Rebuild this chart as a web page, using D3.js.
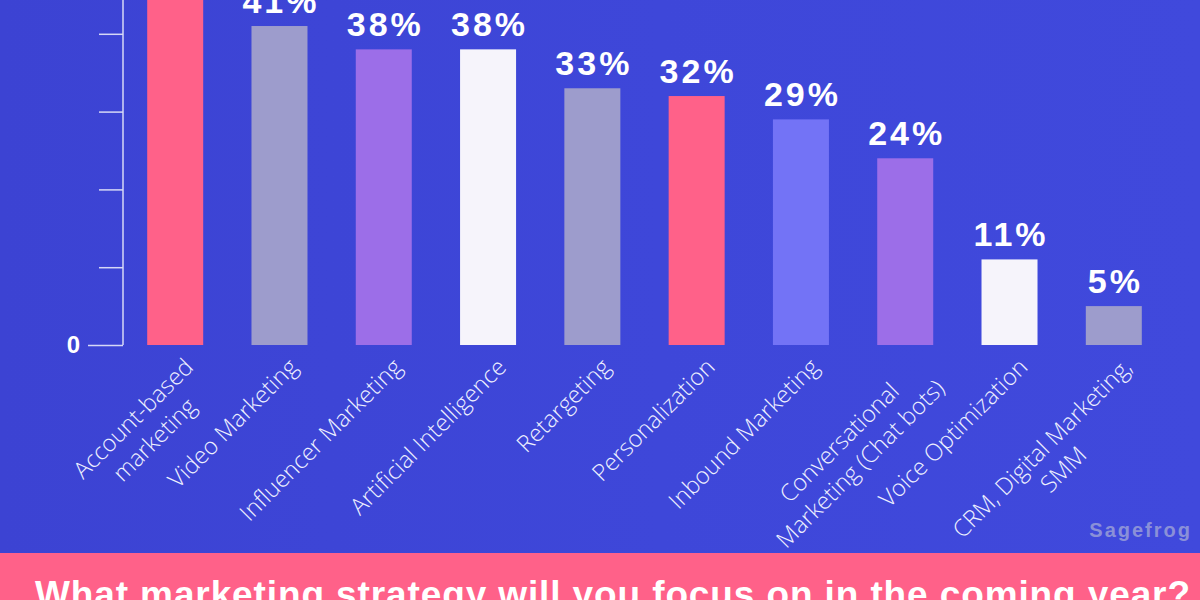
<!DOCTYPE html>
<html>
<head>
<meta charset="utf-8">
<script src="https://cdn.jsdelivr.net/npm/d3@7"></script>
<style>
  html, body { margin: 0; padding: 0; background: #3e46d6; }
  svg { display: block; }
</style>
</head>
<body>
<svg id="chart" width="1200" height="600"></svg>
<script>
// ---- data ----
const categories = [
  "Account-based\nmarketing",
  "Video Marketing",
  "Influencer Marketing",
  "Artificial Intelligence",
  "Retargeting",
  "Personalization",
  "Inbound Marketing",
  "Conversational\nMarketing (Chat bots)",
  "Voice Optimization",
  "CRM, Digital Marketing,\nSMM"
];
const values = [47, 41, 38, 38, 33, 32, 29, 24, 11, 5];
const barColors = ["#ff6189", "#9d9ccc", "#9c6ee8", "#f6f4fb", "#9d9ccc",
                   "#ff6189", "#7373f6", "#9c6ee8", "#f6f4fb", "#9d9ccc"];
const yTicks = [0, 10, 20, 30, 40];
const yTickLabels = ["0", "", "", "", ""];
const title = "What marketing strategy will you focus on in the coming year?";
const brand = "Sagefrog";

// ---- layout ----
const W = 1200, H = 600;
const svg = d3.select("#chart");

const defs = svg.append("defs");
const bg = defs.append("linearGradient").attr("id", "bg").attr("x1", 0).attr("x2", 1).attr("y1", 0).attr("y2", 0);
bg.append("stop").attr("offset", "0%").attr("stop-color", "#3c43d3");
bg.append("stop").attr("offset", "55%").attr("stop-color", "#3e47d9");
bg.append("stop").attr("offset", "100%").attr("stop-color", "#4049dc");
svg.append("rect").attr("width", W).attr("height", H).attr("fill", "url(#bg)");

const axisX = 123, baseY = 345;
const x = d3.scaleBand()
  .domain(categories)
  .range([axisX, axisX + 1043])
  .paddingInner(0.463)
  .paddingOuter(0.232);
const y = d3.scaleLinear().domain([0, 10]).range([baseY, baseY - 77.8]);

// bars
svg.append("g").selectAll("rect").data(values).join("rect")
  .attr("x", (d, i) => x(categories[i]))
  .attr("width", x.bandwidth())
  .attr("y", d => y(d))
  .attr("height", d => y(0) - y(d))
  .attr("fill", (d, i) => barColors[i]);

// value labels
svg.append("g").selectAll("text").data(values).join("text")
  .attr("x", (d, i) => x(categories[i]) + x.bandwidth() / 2 + 1.5)
  .attr("y", d => y(d) - 13)
  .attr("text-anchor", "middle")
  .attr("fill", "#ffffff")
  .attr("font-family", "'Liberation Sans', Arial, sans-serif")
  .attr("font-weight", "bold")
  .attr("font-size", 34)
  .attr("letter-spacing", 3)
  .text(d => d + "%");

// y axis
const yAxis = d3.axisLeft(y).tickValues(yTicks).tickSize(24).tickFormat((d, i) => yTickLabels[i]);
const gy = svg.append("g").attr("transform", `translate(${axisX},0)`).call(yAxis);
gy.select(".domain").remove();
gy.append("line").attr("x1", 0).attr("x2", 0).attr("y1", baseY).attr("y2", 0)
  .attr("stroke", "#d6d8f6").attr("stroke-width", 1.5);
gy.selectAll(".tick line").attr("stroke", "#d6d8f6").attr("stroke-width", 1.5)
  .attr("x2", d => d === 0 ? -35 : -24);
gy.selectAll(".tick text")
  .attr("x", -43)
  .attr("fill", "#ffffff")
  .attr("font-family", "'Liberation Sans', Arial, sans-serif")
  .attr("font-weight", "bold")
  .attr("font-size", 24);

// category labels (rotated, centered lines, end-anchored block)
const lineH = 30;
const catG = svg.append("g").selectAll("g").data(categories).join("g")
  .attr("transform", d => `translate(${x(d) + x.bandwidth() / 2 + 4},${baseY + 8}) rotate(-45)`);
catG.each(function(d) {
  const g = d3.select(this);
  const lines = d.split("\n");
  const texts = lines.map((ln, k) => g.append("text")
    .attr("text-anchor", "end")
    .attr("y", 22 + k * lineH)
    .attr("fill", "#eef0ff")
    .attr("font-family", "'Open Sans', sans-serif")
    .attr("font-weight", 300)
    .attr("font-size", 23.5)
    .text(ln));
  const lens = texts.map(t => t.node().getComputedTextLength());
  const maxL = d3.max(lens);
  texts.forEach((t, k) => t.attr("x", -(maxL - lens[k]) / 2));
});

// brand watermark
svg.append("text")
  .attr("x", 1192).attr("y", 537)
  .attr("text-anchor", "end")
  .attr("fill", "#8a90d8")
  .attr("font-family", "'Liberation Sans', Arial, sans-serif")
  .attr("font-weight", "bold")
  .attr("font-size", 20)
  .attr("letter-spacing", 2)
  .text(brand);

// bottom banner
svg.append("rect").attr("x", 0).attr("y", 553).attr("width", W).attr("height", H - 553).attr("fill", "#ff6189");
const t = svg.append("text")
  .attr("x", 35).attr("y", 607)
  .attr("fill", "#ffffff")
  .attr("font-family", "'Liberation Sans', Arial, sans-serif")
  .attr("font-weight", "bold")
  .attr("font-size", 37)
  .text(title);
const tw = t.node().getComputedTextLength();
t.attr("letter-spacing", (1155 - tw) / (title.length - 1));
</script>
</body>
</html>
